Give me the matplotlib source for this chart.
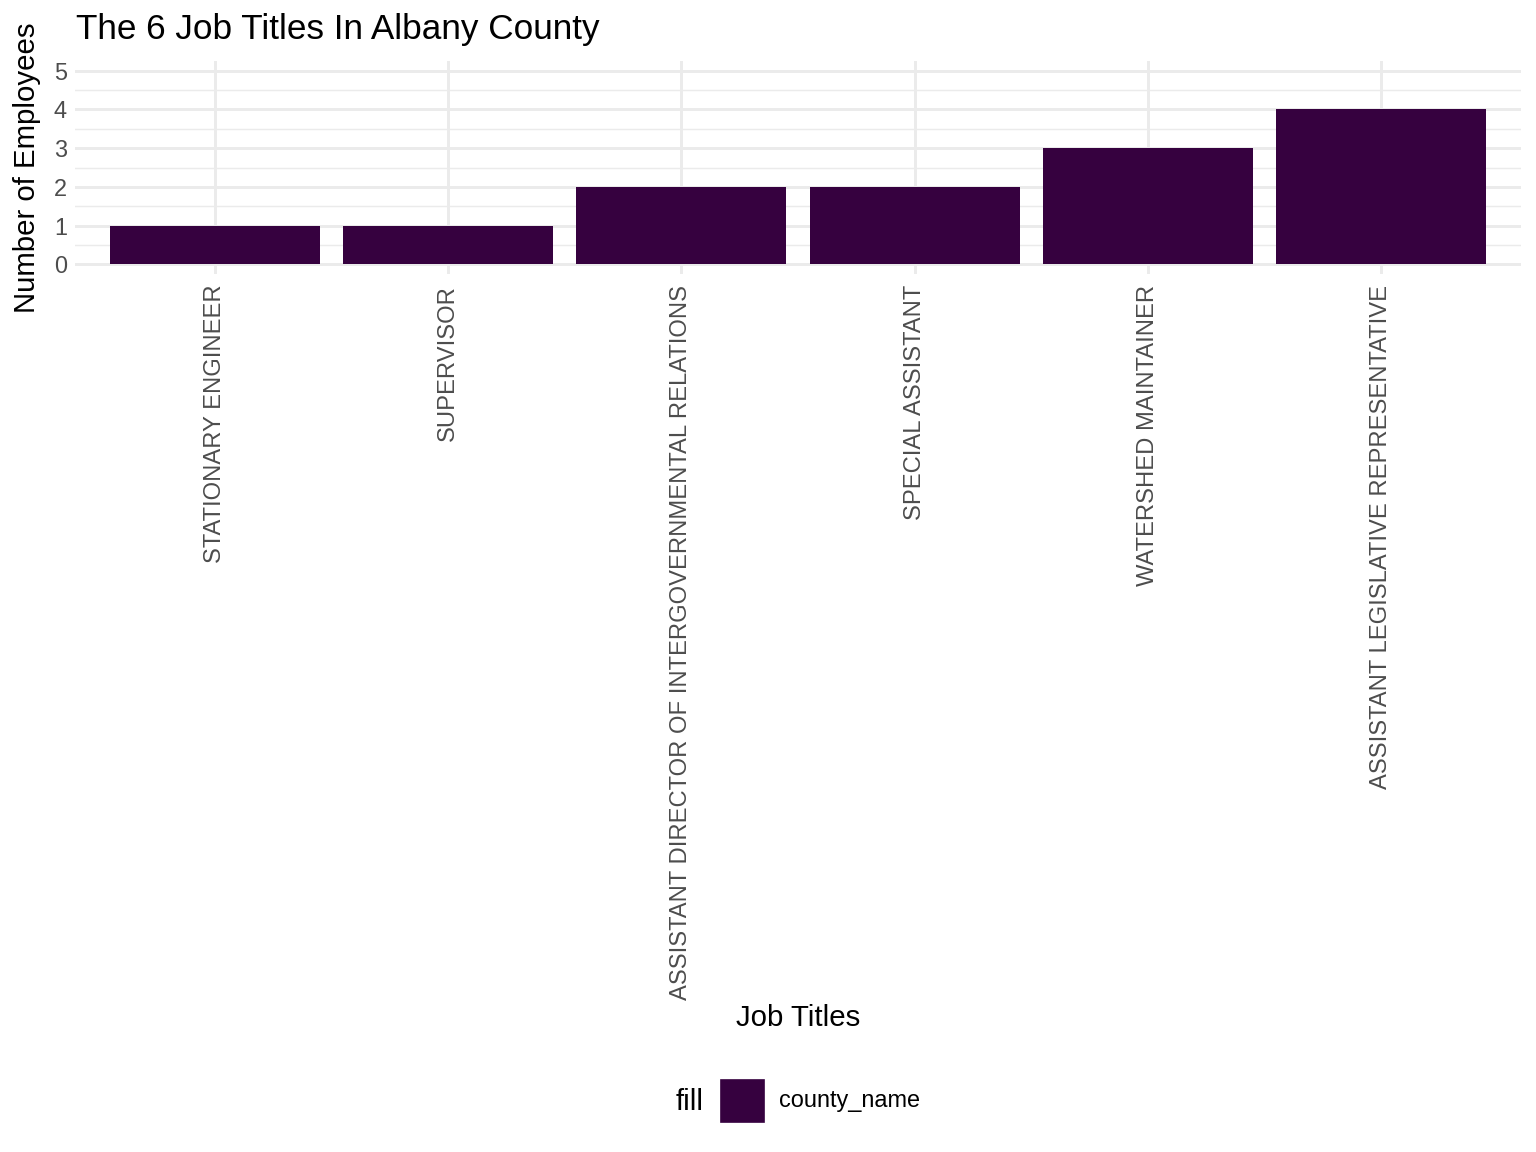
import numpy as np
import matplotlib.pyplot as plt
from matplotlib.patches import Rectangle

# data
job_titles = ['STATIONARY ENGINEER', 'SUPERVISOR',
              'ASSISTANT DIRECTOR OF INTERGOVERNMENTAL RELATIONS',
              'SPECIAL ASSISTANT', 'WATERSHED MAINTAINER',
              'ASSISTANT LEGISLATIVE REPRESENTATIVE']
employees = [1, 1, 2, 2, 3, 4]
y_ticks = [0, 1, 2, 3, 4, 5]

plt.rcParams['font.family'] = ['Liberation Sans', 'DejaVu Sans']
bar_color = '#36013F'
grid_color = '#EBEBEB'

W, H = 1536, 1152
fig = plt.figure(figsize=(8, 6), dpi=192)

# panel in pixel coords
left, right, top, bottom = 75, 1521, 61, 274
ax = fig.add_axes([left / W, 1 - bottom / H, (right - left) / W, (bottom - top) / H])

x = np.arange(1, len(job_titles) + 1)
ax.bar(x, employees, width=0.9, color=bar_color, zorder=3)

ax.set_xlim(0.4, 6.6)
ax.set_ylim(-0.25, 5.25)
ax.set_yticks(y_ticks)
ax.set_yticks(np.arange(0.5, 5.5, 1), minor=True)
ax.set_xticks(x)
ax.set_xticklabels(job_titles, rotation=90, fontsize=8.9, color='#4D4D4D')
ax.tick_params(axis='y', labelsize=8.8, labelcolor='#4D4D4D', pad=3)
ax.tick_params(axis='x', pad=4)
ax.tick_params(which='both', length=0)

ax.grid(axis='both', which='major', color=grid_color, linewidth=1.1, zorder=0)
ax.grid(axis='y', which='minor', color=grid_color, linewidth=0.55, zorder=0)
for s in ax.spines.values():
    s.set_visible(False)

ax.set_ylabel('Number of Employees', fontsize=11, labelpad=5)
fig.text(76 / W, 1 - 30 / H, 'The 6 Job Titles In Albany County', fontsize=13.2,
         ha='left', va='center')
fig.text((left + right) / 2 / W, 1 - 1018 / H, 'Job Titles', fontsize=11,
         ha='center', va='center')

# legend
fig.text(704 / W, 1 - 1102 / H, 'fill', fontsize=11, ha='right', va='center')
fig.patches.append(Rectangle((721 / W, 1 - 1121 / H), 42 / W, 41 / H,
                             transform=fig.transFigure, color=bar_color))
fig.text(779 / W, 1 - 1101 / H, 'county_name', fontsize=8.8, ha='left', va='center')

fig.savefig('out.png', dpi=192, facecolor='white')
